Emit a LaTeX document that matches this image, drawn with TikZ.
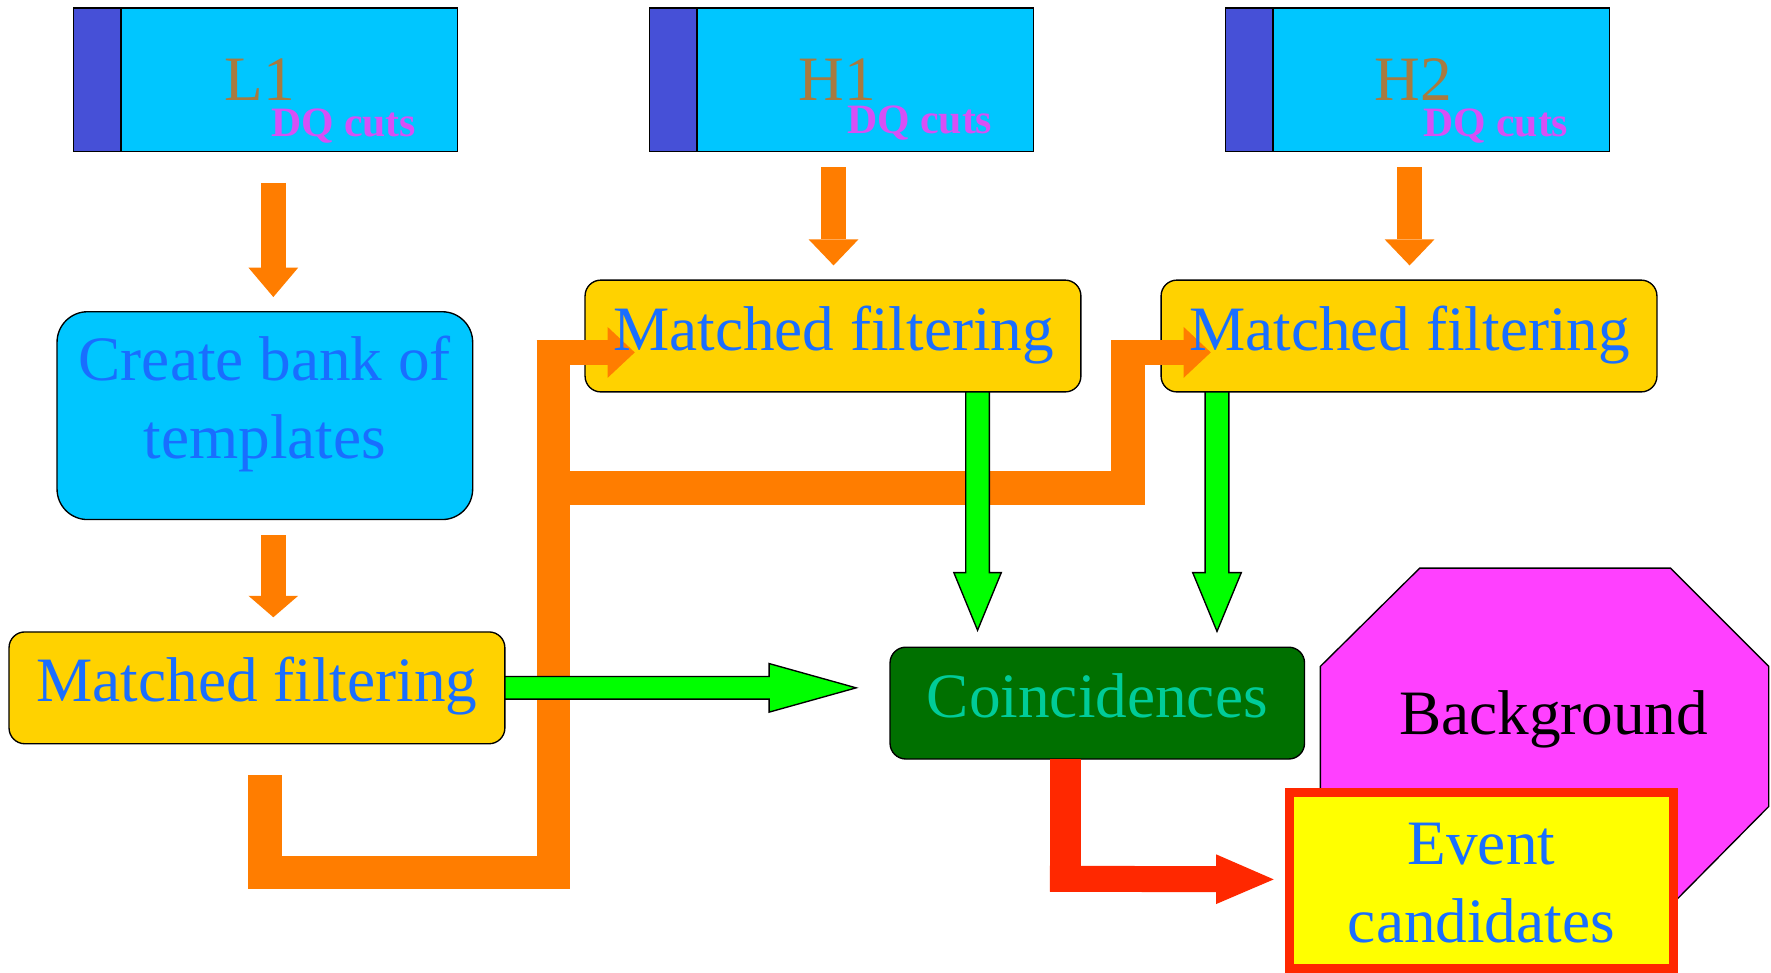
\documentclass[tikz,border=0pt]{standalone}
\usepackage{fontspec}
\setmainfont{Liberation Serif}
\usetikzlibrary{arrows.meta,calc}
\definecolor{cyanbox}{RGB}{0,198,255}
\definecolor{stripblue}{RGB}{70,80,215}
\definecolor{lbrown}{RGB}{168,122,64}
\definecolor{dqmag}{RGB}{215,80,245}
\definecolor{mfyellow}{RGB}{255,210,0}
\definecolor{textblue}{RGB}{25,110,255}
\definecolor{orng}{RGB}{255,125,0}
\definecolor{grn}{RGB}{0,255,0}
\definecolor{dkgreen}{RGB}{0,112,0}
\definecolor{tealtxt}{RGB}{0,204,153}
\definecolor{magoct}{RGB}{255,64,255}
\definecolor{redc}{RGB}{255,40,0}
\definecolor{yel}{RGB}{255,255,0}
\begin{document}
\begin{tikzpicture}[x=1pt,y=-1pt,
  every node/.style={inner sep=0pt, outer sep=0pt},
  topbox/.style={rectangle, draw=black, line width=1.3pt, fill=cyanbox, minimum width=340pt, minimum height=127pt},
  stripbox/.style={rectangle, draw=black, line width=1.3pt, fill=stripblue, minimum width=42pt, minimum height=127pt},
  mfbox/.style={rectangle, rounded corners=14pt, draw=black, line width=1.2pt, fill=mfyellow, minimum width=439pt, minimum height=99pt},
  toptxt/.style={font=\fontsize{56}{60}\selectfont, text=lbrown, anchor=base west},
  dqtxt/.style={font=\bfseries\fontsize{37}{40}\selectfont, text=dqmag, anchor=base west},
  mtxt/.style={font=\fontsize{56}{69}\selectfont, text=textblue},
  sarrow/.style={draw=orng, line width=22pt, -{Triangle[length=#1, width=44pt, line width=0pt]}},
  obar/.style={draw=orng, line width=30pt, line join=miter, line cap=butt},
  oarrow/.style={draw=orng, line width=22pt, -{Triangle[length=24pt, width=45pt, line width=0pt]}},
  garrow/.style={fill=grn, draw=black, line width=1.2pt, line join=miter},
]
\useasboundingbox (0,0) rectangle (1568,861);

% detector boxes
\node[topbox] (L1) at (235,70.5) {};
\node[stripbox] (L1s) at (86,70.5) {};
\node[topbox] (H1) at (745,70.5) {};
\node[stripbox] (H1s) at (596,70.5) {};
\node[topbox] (H2) at (1255,70.5) {};
\node[stripbox] (H2s) at (1106,70.5) {};

% process boxes
\node[rectangle, rounded corners=27pt, draw=black, line width=1.2pt, fill=cyanbox, minimum width=368pt, minimum height=184pt] (bank) at (234.5,368) {};
\node[mfbox] (mfL) at (227.5,609) {};
\node[mfbox] (mfM) at (737.5,297.5) {};
\node[mfbox] (mfR) at (1247.5,297.5) {};
\node[rectangle, rounded corners=14pt, draw=black, line width=1.2pt, fill=dkgreen, minimum width=367pt, minimum height=99pt] (coinc) at (971.5,622.5) {};

% small orange arrows
\draw[sarrow=26pt] ($(L1.south)+(7,28)$) -- ($(bank.north)+(7.5,-13)$);
\draw[sarrow=23pt] ($(H1.south)+(-7,14)$) -- ($(mfM.north)+(0.5,-13)$);
\draw[sarrow=23pt] ($(H2.south)+(-7,14)$) -- ($(mfR.north)+(0.5,-13)$);
\draw[sarrow=19pt] ($(bank.south)+(7.5,14)$) -- ($(mfL.north)+(14.5,-13)$);

% big orange routing
\coordinate (u0) at ($(mfL.south)+(7.5,28)$);
\coordinate (vtop) at (490,301);
\coordinate (btop) at (999,301);
\draw[obar] (u0) -- ++(0,86) -| (vtop);
\draw[obar] (490,432) -| (btop);
\draw[oarrow] ($(vtop)+(-15,11)$) -- ($(mfM.west)+(44,14.5)$);
\draw[oarrow] ($(btop)+(-15,11)$) -- ($(mfR.west)+(44,14.5)$);

% green arrows
\coordinate (g1s) at ($(mfM.south)+(128,0)$);
\coordinate (g1t) at ($(coinc.north)+(-106,-15)$);
\coordinate (g2s) at ($(mfR.south)+(-170,0)$);
\coordinate (g2t) at ($(coinc.north)+(106,-14)$);
\coordinate (ght) at ($(coinc.west)+(-30,-13.5)$);
\draw[garrow] ($(g1s)+(-10.5,0)$) -- ($(g1t)+(-10.5,-51)$) -- ($(g1t)+(-21,-51)$) -- (g1t) -- ($(g1t)+(21,-51)$) -- ($(g1t)+(10.5,-51)$) -- ($(g1s)+(10.5,0)$) -- cycle;
\draw[garrow] ($(g2s)+(-10.5,0)$) -- ($(g2t)+(-10.5,-52)$) -- ($(g2t)+(-21.5,-52)$) -- (g2t) -- ($(g2t)+(21.5,-52)$) -- ($(g2t)+(10.5,-52)$) -- ($(g2s)+(10.5,0)$) -- cycle;
\draw[garrow] ($(mfL.east)+(0,-10)$) -- ($(ght)+(-77,-10)$) -- ($(ght)+(-77,-21.5)$) -- (ght) -- ($(ght)+(-77,21.5)$) -- ($(ght)+(-77,10)$) -- ($(mfL.east)+(0,10)$) -- cycle;

% background octagon
\draw[fill=magoct, draw=black, line width=1.2pt, line join=miter]
  (1257,503) -- (1479,503) -- (1566,590) -- (1566,714) -- (1479,802) -- (1257,802) -- (1169,714) -- (1169,590) -- cycle;

% event candidates
\node[rectangle, draw=redc, line width=7.5pt, fill=yel, minimum width=339.75pt, minimum height=155.75pt] (event) at (1311.6,779.6) {};

% red connector
\draw[draw=redc, line width=28pt] ($(coinc.south)+(-28,0)$) -- ($(coinc.south)+(-28,118)$);
\draw[draw=redc, line width=23pt, -{Triangle[length=51pt, width=44pt, line width=0pt]}] ($(coinc.south)+(-42,106)$) -- ($(event.west)+(-14,-1)$);

% texts
\node[toptxt] (tL1) at (199,89) {L1};
\node[dqtxt] (dqL1) at (240,121) {DQ cuts};
\node[toptxt] (tH1) at (707,89) {H1};
\node[dqtxt] (dqH1) at (750,118) {DQ cuts};
\node[toptxt] (tH2) at (1217,89) {H2};
\node[dqtxt] (dqH2) at (1260,121) {DQ cuts};
\node[mtxt, align=center] (tbank) at ($(bank.center)+(0,-10.5)$) {Create bank of\\templates};
\node[mtxt, anchor=base] (tmfL) at (227.5,621) {Matched filtering};
\node[mtxt, anchor=base] (tmfM) at (738,310) {Matched filtering};
\node[mtxt, anchor=base] (tmfR) at (1248,310) {Matched filtering};
\node[mtxt, anchor=base, text=tealtxt] (tcoinc) at (971.5,635) {Coincidences};
\node[mtxt, anchor=base, text=black] (tbg) at (1375.5,650) {Background};
\node[mtxt, align=center] (tevent) at ($(event.center)+(0,2)$) {Event\\candidates};
\end{tikzpicture}
\end{document}
